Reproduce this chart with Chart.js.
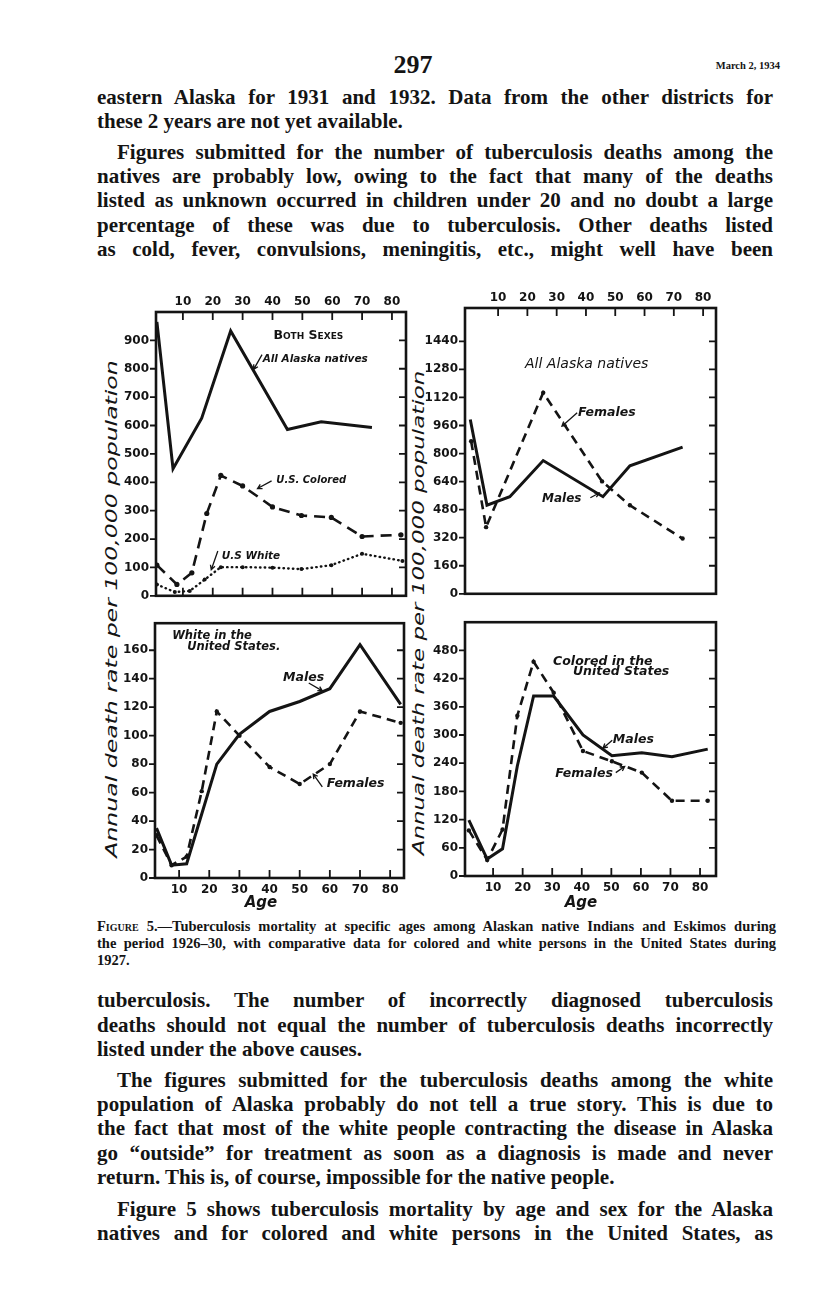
<!DOCTYPE html>
<html>
<head>
<meta charset="utf-8">
<title>Figure 5 - Tuberculosis mortality</title>
<script src="https://cdn.jsdelivr.net/npm/chart.js@4.4.1/dist/chart.umd.min.js"></script>
<style>
  html, body { margin: 0; padding: 0; background: #fff; }
  #page { position: relative; width: 816px; height: 1289px; overflow: hidden; color: #141414; background: #fff; }
  .ln { position: absolute; left: 97px; width: 676px; height: 24px; line-height: 24px;
        font: bold 21px "Liberation Serif", "DejaVu Serif", serif; white-space: nowrap; }
  .ln.in { padding-left: 20px; width: 656px; }
  .ln.cap { font-size: 14.5px; height: 17px; line-height: 17px; width: 679px; }
  .ln span { display: inline-block; transform-origin: 0 50%; }
  .sc { font-variant: small-caps; }
  canvas { position: absolute; }
  .yt { position: absolute; white-space: nowrap; font: italic 16px "DejaVu Sans", sans-serif; transform-origin: 50% 50%; }
  .age { position: absolute; font: italic bold 15px "DejaVu Sans", sans-serif; transform: translate(-50%, -50%); }
  #pno { position: absolute; left: 413px; top: 65px; transform: translate(-50%, -50%); font: bold 26px "Liberation Serif", serif; }
  #date { position: absolute; right: 36px; top: 60px; font: bold 10.5px "Liberation Serif", serif; }
</style>
</head>
<body>
<div id="page">
  <div id="pno">297</div>
  <div id="date">March 2, 1934</div>

  <div class="ln j" style="top:85px"><span>eastern Alaska for 1931 and 1932. Data from the other districts for</span></div>
  <div class="ln" style="top:109px"><span>these 2 years are not yet available.</span></div>
  <div class="ln j in" style="top:140px"><span>Figures submitted for the number of tuberculosis deaths among the</span></div>
  <div class="ln j" style="top:164px"><span>natives are probably low, owing to the fact that many of the deaths</span></div>
  <div class="ln j" style="top:188px"><span>listed as unknown occurred in children under 20 and no doubt a large</span></div>
  <div class="ln j" style="top:213px"><span>percentage of these was due to tuberculosis. Other deaths listed</span></div>
  <div class="ln j" style="top:237px"><span>as cold, fever, convulsions, meningitis, etc., might well have been</span></div>

  <div class="yt" id="ytl" style="left:111px; top:609px">Annual death rate per 100,000 population</div>
  <div class="yt" id="ytr" style="left:418px; top:613px">Annual death rate per 100,000 population</div>

  <canvas id="tl" width="310" height="320" style="left:100px; top:290px"></canvas>
  <canvas id="tr" width="310" height="322" style="left:410px; top:286px"></canvas>
  <canvas id="bl" width="310" height="300" style="left:100px; top:609px"></canvas>
  <canvas id="br" width="310" height="300" style="left:410px; top:608px"></canvas>

  <div class="age" style="left:261px; top:902px">Age</div>
  <div class="age" style="left:581px; top:902px">Age</div>

  <div class="ln j cap" style="top:918px"><span><span class="sc">Figure</span> 5.—Tuberculosis mortality at specific ages among Alaskan native Indians and Eskimos during</span></div>
  <div class="ln j cap" style="top:935px"><span>the period 1926–30, with comparative data for colored and white persons in the United States during</span></div>
  <div class="ln cap" style="top:952px"><span>1927.</span></div>

  <div class="ln j" style="top:988px"><span>tuberculosis. The number of incorrectly diagnosed tuberculosis</span></div>
  <div class="ln j" style="top:1013px"><span>deaths should not equal the number of tuberculosis deaths incorrectly</span></div>
  <div class="ln" style="top:1037px"><span>listed under the above causes.</span></div>
  <div class="ln j in" style="top:1068px"><span>The figures submitted for the tuberculosis deaths among the white</span></div>
  <div class="ln j" style="top:1092px"><span>population of Alaska probably do not tell a true story. This is due to</span></div>
  <div class="ln j" style="top:1116px"><span>the fact that most of the white people contracting the disease in Alaska</span></div>
  <div class="ln j" style="top:1141px"><span>go “outside” for treatment as soon as a diagnosis is made and never</span></div>
  <div class="ln" style="top:1165px"><span>return. This is, of course, impossible for the native people.</span></div>
  <div class="ln j in" style="top:1197px"><span>Figure 5 shows tuberculosis mortality by age and sex for the Alaska</span></div>
  <div class="ln j" style="top:1221px"><span>natives and for colored and white persons in the United States, as</span></div>
</div>

<script>
// ---- data (age in years, deaths per 100,000) ----
// both sexes
const tlNativeAge = [1.3, 6.7, 16.3, 26, 45, 56.3, 73.3];
const tlNativeRate = [965, 448, 626, 933, 586, 613, 593];
const tlColoredAge = [1.3, 8, 13, 18, 22.7, 30, 40, 49.7, 59.7, 70, 83];
const tlColoredRate = [108, 40, 81, 290, 424, 387, 313, 283, 276, 209, 215];
const tlWhiteAge = [1.3, 7.3, 12.3, 17.3, 22.7, 30, 40, 49.7, 59.7, 70, 83.5];
const tlWhiteRate = [40, 13, 17, 57, 101, 101, 99, 94, 108, 148, 123];

// all Alaska natives by sex
const trMaleAge = [0.5, 6.2, 14, 25.4, 45.8, 55, 73];
const trMaleRate = [994, 505, 554, 760, 554, 730, 837];
const trFemaleAge = [0.8, 5.9, 25.4, 45.5, 55, 73];
const trFemaleRate = [870, 380, 1147, 641, 505, 315];

// white in the United States
const blAge = [2.5, 7.5, 12.5, 17.5, 22.5, 30, 40, 50, 60, 70, 83.5];
const blMaleRate = [35, 9, 10, 45, 80, 101, 117, 124, 133, 164, 122];
const blFemaleRate = [30, 9, 15, 61, 117, 100, 78, 66, 80, 117, 109];

// colored in the United States
const brAge = [1.8, 8, 13.2, 18.2, 23.7, 30.5, 40.4, 50.2, 60.3, 70.5, 82.6];
const brMaleRate = [119, 36, 58, 234, 383, 383, 300, 256, 262, 254, 270];
const brFemaleRate = [97, 34, 99, 341, 456, 390, 266, 244, 220, 160, 160];

// tick labels
const ageTicks = [10, 20, 30, 40, 50, 60, 70, 80];
const tlRateTicks = [0, 100, 200, 300, 400, 500, 600, 700, 800, 900];
const trRateTicks = [0, 160, 320, 480, 640, 800, 960, 1120, 1280, 1440];
const blRateTicks = [0, 20, 40, 60, 80, 100, 120, 140, 160];
const brRateTicks = [0, 60, 120, 180, 240, 300, 360, 420, 480];

const ink = '#141414';
const tickFont = { family: '"DejaVu Sans", sans-serif', size: 12, weight: 'bold' };
const hand = s => 'italic bold ' + s + 'px "DejaVu Sans", sans-serif';

// fit each text line to the column width
document.querySelectorAll('.ln').forEach(el => {
  const span = el.firstElementChild;
  const target = el.clientWidth - parseFloat(getComputedStyle(el).paddingLeft);
  const w = span.getBoundingClientRect().width;
  if (w > target) {
    span.style.transform = 'scaleX(' + (target / w) + ')';
  } else if (el.classList.contains('j')) {
    const gaps = (span.textContent.match(/ /g) || []).length;
    if (gaps) span.style.wordSpacing = ((target - w) / gaps) + 'px';
  }
});

function fitTitle(id, len) {
  const el = document.getElementById(id);
  const w = el.offsetWidth;
  el.style.transform = 'translate(-50%, -50%) rotate(-90deg) scaleX(' + (len / w) + ')';
}
fitTitle('ytl', 498);
fitTitle('ytr', 485);

function pts(ages, rates) {
  return ages.map((a, i) => ({ x: a, y: rates[i] }));
}
const solid = d => ({ data: d, borderColor: ink, borderWidth: 3, pointRadius: 0, tension: 0 });
const dashed = d => ({ data: d, borderColor: ink, borderWidth: 2.6, borderDash: [9, 6], pointRadius: 2.2,
                       pointBackgroundColor: ink, pointBorderWidth: 0, tension: 0 });
const dashDot = d => ({ data: d, borderColor: ink, borderWidth: 2.6, borderDash: [11, 7], pointRadius: 2.6,
                        pointBackgroundColor: ink, pointBorderWidth: 0, tension: 0 });
const dotted = d => ({ data: d, borderColor: ink, borderWidth: 2.4, borderDash: [0.5, 4.2], borderCapStyle: 'round',
                       pointRadius: 2, pointBackgroundColor: ink, pointBorderWidth: 0, tension: 0 });

// frame, inward ticks, lettering and little arrows
const frameTicks = {
  id: 'frameTicks',
  afterDatasetsDraw(chart, args, o) {
    const { ctx, chartArea: a, scales: { x, y } } = chart;
    ctx.save();
    ctx.strokeStyle = ink;
    ctx.lineWidth = 1.8;
    ctx.beginPath();
    y.ticks.forEach(t => {
      const py = y.getPixelForValue(t.value);
      ctx.moveTo(a.left - 6, py); ctx.lineTo(a.left, py);
      ctx.moveTo(a.right - 7, py); ctx.lineTo(a.right, py);
    });
    x.ticks.forEach(t => {
      const px = x.getPixelForValue(t.value);
      if (o.top) { ctx.moveTo(px, a.top); ctx.lineTo(px, a.top + 8); }
      if (o.bottom) { ctx.moveTo(px, a.bottom); ctx.lineTo(px, a.bottom - 8); }
    });
    ctx.stroke();
    ctx.lineWidth = 2.6;
    ctx.strokeRect(a.left, a.top, a.right - a.left, a.bottom - a.top);

    ctx.fillStyle = ink;
    ctx.textBaseline = 'middle';
    (o.notes || []).forEach(n => {
      ctx.font = n.font;
      ctx.fillText(n.text, x.getPixelForValue(n.x), y.getPixelForValue(n.y));
    });
    ctx.lineWidth = 1.3;
    (o.arrows || []).forEach(r => {
      const x1 = x.getPixelForValue(r[0]), y1 = y.getPixelForValue(r[1]);
      const x2 = x.getPixelForValue(r[2]), y2 = y.getPixelForValue(r[3]);
      const ang = Math.atan2(y2 - y1, x2 - x1);
      ctx.beginPath();
      ctx.moveTo(x1, y1); ctx.lineTo(x2, y2);
      ctx.moveTo(x2 - 5 * Math.cos(ang - 0.5), y2 - 5 * Math.sin(ang - 0.5));
      ctx.lineTo(x2, y2);
      ctx.lineTo(x2 - 5 * Math.cos(ang + 0.5), y2 - 5 * Math.sin(ang + 0.5));
      ctx.stroke();
    });
    ctx.restore();
  }
};

function panel(id, o) {
  return new Chart(document.getElementById(id), {
    type: 'line',
    data: { datasets: o.datasets },
    options: {
      responsive: false,
      animation: false,
      events: [],
      layout: { padding: o.pad },
      plugins: { legend: { display: false }, tooltip: { enabled: false }, frameTicks: o.frame },
      scales: {
        x: {
          type: 'linear', position: o.xPos, min: o.xMin, max: o.xMax,
          afterBuildTicks: s => { s.ticks = ageTicks.map(v => ({ value: v })); },
          afterFit: s => { s.height = o.xH; },
          grid: { display: false, drawTicks: false },
          border: { display: false },
          ticks: { padding: o.xPad, color: ink, font: tickFont, maxRotation: 0, autoSkip: false, callback: v => String(v) }
        },
        y: {
          type: 'linear', min: 0, max: o.yMax,
          afterBuildTicks: s => { s.ticks = o.yTicks.map(v => ({ value: v })); },
          afterFit: s => { s.width = o.yW; },
          grid: { display: false, drawTicks: false },
          border: { display: false },
          ticks: { padding: 7, color: ink, font: tickFont, autoSkip: false, callback: v => String(v) }
        }
      }
    },
    plugins: [frameTicks]
  });
}

panel('tl', {
  datasets: [solid(pts(tlNativeAge, tlNativeRate)), dashDot(pts(tlColoredAge, tlColoredRate)), dotted(pts(tlWhiteAge, tlWhiteRate))],
  pad: { left: 0, right: 3, top: 0, bottom: 1 },
  xPos: 'top', xH: 22, xPad: 3, xMin: 1, xMax: 84.7,
  yW: 56, yMax: 1000, yTicks: tlRateTicks,
  frame: {
    top: true, bottom: true,
    notes: [
      { text: 'Both Sexes', x: 40.3, y: 916, font: 'small-caps bold 12.5px "DejaVu Sans", sans-serif' },
      { text: 'All Alaska natives', x: 36.7, y: 835, font: hand(10.5) },
      { text: 'U.S. Colored', x: 41.3, y: 407, font: hand(10) },
      { text: 'U.S White', x: 23, y: 141, font: hand(10.5) }
    ],
    arrows: [[36.5, 850, 33.7, 798], [39.7, 405, 35, 378], [21.7, 158, 19.5, 92]]
  }
});

panel('tr', {
  datasets: [solid(pts(trMaleAge, trMaleRate)), dashed(pts(trFemaleAge, trFemaleRate))],
  pad: { left: 0, right: 4, top: 0, bottom: 0 },
  xPos: 'top', xH: 22, xPad: 3, xMin: -1.3, xMax: 84.4,
  yW: 55, yMax: 1630, yTicks: trRateTicks,
  frame: {
    top: true, bottom: false,
    notes: [
      { text: 'All Alaska natives', x: 19.2, y: 1310, font: 'italic 14px "DejaVu Sans", sans-serif' },
      { text: 'Females', x: 37.3, y: 1032, font: hand(12.5) },
      { text: 'Males', x: 25, y: 543, font: hand(12) }
    ],
    arrows: [[37, 1032, 31.8, 956], [41.5, 548, 44.5, 575]]
  }
});

panel('bl', {
  datasets: [solid(pts(blAge, blMaleRate)), dashed(pts(blAge, blFemaleRate))],
  pad: { left: 0, right: 6, top: 0, bottom: 0 },
  xPos: 'bottom', xH: 31, xPad: 5, xMin: 2, xMax: 84.6,
  yW: 55, yMax: 179, yTicks: blRateTicks,
  frame: {
    top: false, bottom: true,
    notes: [
      { text: 'White in the', x: 7.7, y: 170, font: hand(11.5) },
      { text: 'United States.', x: 12.7, y: 162, font: hand(11.5) },
      { text: 'Males', x: 44.5, y: 141, font: hand(12.5) },
      { text: 'Females', x: 59, y: 66, font: hand(12.5) }
    ],
    arrows: [[53, 137, 57.5, 131.5], [57.5, 64, 54.5, 73]]
  }
});

panel('br', {
  datasets: [solid(pts(brAge, brMaleRate)), dashed(pts(brAge, brFemaleRate))],
  pad: { left: 0, right: 4, top: 0, bottom: 0 },
  xPos: 'bottom', xH: 32, xPad: 5, xMin: 0.5, xMax: 85.4,
  yW: 55, yMax: 540, yTicks: brRateTicks,
  frame: {
    top: false, bottom: true,
    notes: [
      { text: 'Colored in the', x: 30.3, y: 456, font: hand(12.5) },
      { text: 'United States', x: 37, y: 434, font: hand(12.5) },
      { text: 'Males', x: 50.5, y: 290, font: hand(12.5) },
      { text: 'Females', x: 31, y: 218, font: hand(12.5) }
    ],
    arrows: [[50.3, 289, 47.2, 272], [51.5, 220, 54.5, 233]]
  }
});
</script>
</body>
</html>
